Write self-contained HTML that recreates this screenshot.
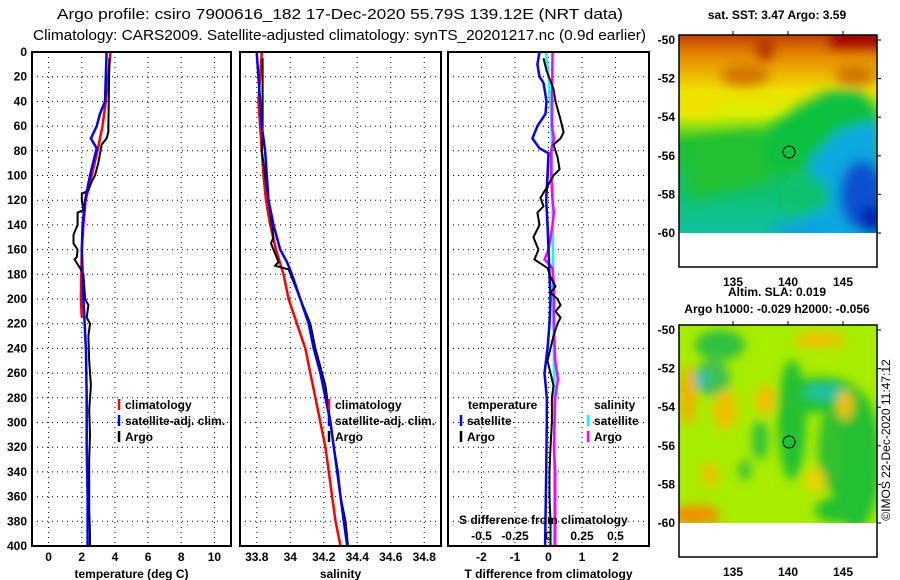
<!DOCTYPE html>
<html><head><meta charset="utf-8"><style>
html,body{margin:0;padding:0;background:#fff;}
svg{display:block;font-family:"Liberation Sans",sans-serif;}
.t{font-size:12px;font-weight:bold;fill:#000;}
.ttl{font-size:15px;fill:#000;}
</style></head><body>
<svg id="chart" width="900" height="580" viewBox="0 0 900 580" xmlns="http://www.w3.org/2000/svg">
<defs>
<filter id="blur1" x="-20%" y="-20%" width="140%" height="140%"><feGaussianBlur stdDeviation="6"/></filter>
<filter id="blur2" x="-20%" y="-20%" width="140%" height="140%"><feGaussianBlur stdDeviation="5"/></filter>
<clipPath id="clipm1"><rect x="679" y="35" width="198" height="198"/></clipPath>
<clipPath id="clipm2"><rect x="679" y="325" width="198" height="198"/></clipPath>
<linearGradient id="sstg" x1="0" y1="0" x2="0" y2="1">
<stop offset="0" stop-color="#c85000"/><stop offset="0.12" stop-color="#e89000"/><stop offset="0.28" stop-color="#f0e000"/><stop offset="0.4" stop-color="#d8f000"/><stop offset="0.55" stop-color="#20c030"/><stop offset="0.8" stop-color="#10c070"/><stop offset="1" stop-color="#10c0a0"/>
</linearGradient>
</defs>
<text class="ttl" x="57" y="19" textLength="566" lengthAdjust="spacingAndGlyphs">Argo profile: csiro 7900616_182 17-Dec-2020 55.79S 139.12E (NRT data)</text>
<text class="ttl" x="33" y="40" textLength="613" lengthAdjust="spacingAndGlyphs">Climatology: CARS2009. Satellite-adjusted climatology: synTS_20201217.nc (0.9d earlier)</text>

<g id="panels"></g>

<!-- SST map -->
<g>
<text class="t" x="777" y="19" text-anchor="middle">sat. SST: 3.47 Argo: 3.59</text>
<g clip-path="url(#clipm1)">
<rect x="679" y="35" width="198" height="198" fill="url(#sstg)"/>
<g filter="url(#blur1)">
<rect x="670" y="25" width="220" height="14" fill="#c04000"/>
<rect x="830" y="25" width="60" height="22" fill="#a00000"/>
<ellipse cx="765" cy="50" rx="8" ry="10" fill="#b02000"/>
<ellipse cx="745" cy="75" rx="25" ry="10" fill="#d07000"/>
<ellipse cx="855" cy="75" rx="20" ry="10" fill="#d07000"/>
<ellipse cx="700" cy="105" rx="22" ry="12" fill="#f0e000"/>
<polygon points="760,170 765,130 800,105 830,90 860,90 880,110 880,170" fill="#10c040"/>
<polygon points="690,140 760,130 770,180 690,200" fill="#20c030"/>
<polygon points="810,160 840,130 880,120 880,240 800,240" fill="#10a8e0"/>
<ellipse cx="862" cy="195" rx="22" ry="35" fill="#1050d0"/>
<ellipse cx="872" cy="220" rx="12" ry="15" fill="#0020b0"/>
<ellipse cx="805" cy="195" rx="25" ry="20" fill="#10c070"/>
<ellipse cx="800" cy="230" rx="30" ry="8" fill="#10a0e0"/>
</g>
</g>
<rect x="679" y="233" width="198" height="34" fill="#fff"/>
<rect x="679" y="35" width="198" height="232" fill="none" stroke="#000" stroke-width="1.5"/>
<circle cx="789" cy="152" r="6" fill="none" stroke="#000" stroke-width="1"/>
</g>

<!-- SLA map -->
<g>
<text class="t" x="777" y="296" text-anchor="middle">Altim. SLA: 0.019</text>
<text class="t" x="777" y="313" text-anchor="middle">Argo h1000: -0.029 h2000: -0.056</text>
<g clip-path="url(#clipm2)">
<rect x="679" y="325" width="198" height="198" fill="#a8ec00"/>
<g filter="url(#blur2)">
<ellipse cx="720" cy="345" rx="25" ry="15" fill="#30c040"/>
<ellipse cx="712" cy="378" rx="18" ry="18" fill="#40c050"/>
<ellipse cx="820" cy="395" rx="40" ry="18" fill="#20c030"/>
<ellipse cx="825" cy="392" rx="22" ry="8" fill="#20c0a0"/>
<ellipse cx="700" cy="380" rx="8" ry="8" fill="#30c0c0"/>
<ellipse cx="792" cy="420" rx="14" ry="60" fill="#20c030"/>
<ellipse cx="855" cy="460" rx="25" ry="70" fill="#20c030"/>
<ellipse cx="830" cy="450" rx="12" ry="40" fill="#30c030"/>
<ellipse cx="760" cy="440" rx="8" ry="20" fill="#30c040"/>
<ellipse cx="745" cy="470" rx="6" ry="10" fill="#30c040"/>
<ellipse cx="835" cy="510" rx="20" ry="12" fill="#20c030"/>
<ellipse cx="688" cy="395" rx="8" ry="30" fill="#f0b000"/>
<ellipse cx="725" cy="410" rx="12" ry="20" fill="#f0c000"/>
<ellipse cx="765" cy="400" rx="10" ry="15" fill="#f0c000"/>
<ellipse cx="695" cy="515" rx="25" ry="10" fill="#f09000"/>
<ellipse cx="820" cy="340" rx="25" ry="8" fill="#f0c000"/>
<ellipse cx="845" cy="405" rx="8" ry="15" fill="#f0c000"/>
<ellipse cx="710" cy="475" rx="8" ry="12" fill="#f0c000"/>
<ellipse cx="815" cy="480" rx="10" ry="12" fill="#f0d000"/>
</g>
</g>
<rect x="679" y="523" width="198" height="34" fill="#fff"/>
<rect x="679" y="325" width="198" height="232" fill="none" stroke="#000" stroke-width="1.5"/>
<circle cx="789" cy="442" r="6" fill="#20c030" stroke="#000" stroke-width="1"/>
</g>
<text x="0" y="0" font-size="12" transform="translate(890,440) rotate(-90)" text-anchor="middle">©IMOS 22-Dec-2020 11:47:12</text>
</svg>
<script>
// ---- data ----
const depthTicks = [0,20,40,60,80,100,120,140,160,180,200,220,240,260,280,300,320,340,360,380,400];
const tempTicks = [0,2,4,6,8,10];
const salTicks = [33.8,34,34.2,34.4,34.6,34.8];
const salTickLabels = ["33.8","34","34.2","34.4","34.6","34.8"];
const tdiffTicks = [-2,-1,0,1,2];
const sdiffTicks = [-0.5,-0.25,0,0.25,0.5];
const sdiffTickLabels = ["-0.5","-0.25","0","0.25","0.5"];

const climTDepth = [0,20,40,60,80,100,120,140,160,180,200,215];
const climTVal = [3.73,3.6,3.45,3.25,2.95,2.6,2.23,2.1,2.0,1.97,1.95,2.0];
const satTDepth = [0,40,50,60,70,78,100,120,140,160,200,240,280,320,360,400];
const satTVal = [3.5,3.4,3.1,2.9,2.55,2.9,2.5,2.2,2.05,2.0,2.1,2.25,2.3,2.3,2.35,2.35];
const argoTDepth = [5,65,70,75,90,100,105,112,115,120,128,130,140,148,155,160,166,168,175,180,200,205,215,220,230,250,270,290,310,330,350,370,390,400];
const argoTVal = [3.67,3.6,3.5,3.2,3.0,2.8,2.6,2.4,2.0,2.0,2.1,1.75,1.75,1.5,1.5,1.75,1.7,1.57,1.9,2.1,2.2,2.4,2.3,2.5,2.4,2.45,2.55,2.45,2.5,2.45,2.45,2.45,2.5,2.5];

const climSDepth = [0,40,80,100,120,140,160,180,200,220,240,260,280,300,320,340,360,380,400];
const climSVal = [33.83,33.81,33.83,33.84,33.855,33.88,33.915,33.96,33.99,34.04,34.09,34.12,34.15,34.18,34.21,34.23,34.25,34.27,34.30];
const satSDepth = [0,20,60,80,100,120,140,160,170,180,200,220,240,260,280,300,320,340,360,380,400];
const satSVal = [33.8,33.81,33.83,33.85,33.86,33.87,33.9,33.94,33.98,34.01,34.06,34.11,34.14,34.18,34.21,34.24,34.26,34.28,34.3,34.32,34.34];
const argoSDepth = [5,60,80,100,120,140,150,155,160,170,173,176,200,220,240,260,270,280,300,320,340,360,380,400];
const argoSVal = [33.835,33.835,33.83,33.85,33.87,33.89,33.9,33.885,33.9,33.93,33.91,33.99,34.06,34.12,34.15,34.19,34.21,34.22,34.24,34.26,34.285,34.3,34.33,34.345];

const tdSatDepth = [0,10,20,25,40,50,60,70,78,82,100,120,140,160,200,220,240,260,280,300,340,400];
const tdSatVal = [-0.27,-0.33,-0.27,-0.15,-0.06,-0.09,-0.33,-0.48,-0.27,0,-0.03,-0.07,-0.03,0,0.06,0.03,-0.03,-0.12,-0.05,-0.05,-0.07,-0.1];
const tdArgoDepth = [5,15,30,40,55,65,70,75,85,95,100,110,118,125,130,140,150,160,168,175,182,190,195,200,205,210,215,220,230,240,250,260,270,280,300,320,340,360,380,400];
const tdArgoVal = [-0.15,-0.06,0.15,0.21,0.36,0.45,0.36,0.15,0.27,0.33,0.15,-0.06,-0.24,-0.15,-0.33,-0.27,-0.45,-0.3,-0.42,-0.03,0.06,0.21,0.06,0.27,0.36,0.21,0.36,0.27,0.15,0.06,-0.03,0.06,0.15,0.1,0.1,0.06,0.03,0.03,0.06,0.06];
const sdSatDepth = [0,20,50,100,200,300,400];
const sdSatVal = [-0.02,0.0,0.02,0.03,0.035,0.045,0.04];
const sdArgoDepth = [0,60,70,80,100,120,130,140,160,168,175,190,220,250,265,280,320,340,400];
const sdArgoVal = [0.03,0.025,0.04,0.02,0.02,0.03,0.04,0.03,0.0,-0.03,0.03,0.04,0.04,0.05,0.07,0.05,0.04,0.05,0.05];

// ---- drawing ----
const NS = 'http://www.w3.org/2000/svg';
const root = document.getElementById('panels');
const Y0 = 52, Y1 = 546;
function yScale(d){ return Y0 + (d/400)*(Y1-Y0); }
function mk(tag, attrs, parent){
  const e = document.createElementNS(NS, tag);
  for (const k in attrs) e.setAttribute(k, attrs[k]);
  (parent||root).appendChild(e);
  return e;
}
function makeX(x0,x1,vmin,vmax){ return v => x0 + (v-vmin)/(vmax-vmin)*(x1-x0); }

function panel(name, x0, x1, xs, ticks, labels, title, showDepth){
  const g = mk('g', {});
  
  
  ticks.forEach(t => {
    const l = mk('line', {x1:xs(t), x2:xs(t), y1:Y0, y2:Y1, stroke:'#000', 'stroke-width':1, 'stroke-dasharray':'1,4'}, g);
    
    
  });
  depthTicks.forEach(d => {
    if (d===0 || d===400) return;
    const l = mk('line', {x1:x0, x2:x1, y1:yScale(d), y2:yScale(d), stroke:'#000', 'stroke-width':1, 'stroke-dasharray':'1,4'}, g);
    
    
  });
  if (labels){
    ticks.forEach((t,i) => {
      const tx = mk('text', {x:xs(t), y:561, 'text-anchor':'middle', class:'t'}, g);
      tx.textContent = labels[i];
      
      
    });
  }
  const tt = mk('text', {x:(x0+x1)/2, y:578, 'text-anchor':'middle', class:'t'}, g);
  tt.textContent = title;
  
  
  if (showDepth){
    depthTicks.forEach(d => {
      const tx = mk('text', {x:27, y:yScale(d)+4, 'text-anchor':'end', class:'t'}, g);
      tx.textContent = String(d);
      
      
    });
  }
  return g;
}
function frame(g, x0, x1){
  const r = mk('rect', {x:x0, y:Y0, width:x1-x0, height:Y1-Y0, fill:'none', stroke:'#000', 'stroke-width':2}, g);
  
  
}
function series(g, name, depths, vals, xs, color, w){
  const pts = depths.map((d,i) => xs(vals[i]).toFixed(1)+','+yScale(d).toFixed(1)).join(' ');
  const p = mk('polyline', {points:pts, fill:'none', stroke:color, 'stroke-width':w, 'stroke-linejoin':'miter'}, g);
  
  
}
function legend(g, x, y, color, text){
  const m = mk('line', {x1:x, x2:x, y1:y-10, y2:y+1, stroke:color, 'stroke-width':2.5}, g);
  
  
  const t = mk('text', {x:x+6, y:y, class:'t'}, g);
  t.textContent = text;
  
  
}
function label(g, x, y, text, name){
  const t = mk('text', {x:x, y:y, class:'t'}, g);
  t.textContent = text;
  
  
}

const xT = makeX(32, 231, -1, 11);
const g1 = panel('temperature-panel', 32, 231, xT, tempTicks, tempTicks.map(String), 'temperature (deg C)', true);
series(g1, 'temperature-climatology-line', climTDepth, climTVal, xT, '#ff0000', 2.5);
series(g1, 'temperature-argo-line', argoTDepth, argoTVal, xT, '#000', 2);
series(g1, 'temperature-satellite-line', satTDepth, satTVal, xT, '#0000ff', 2.5);
legend(g1, 119, 409, '#ff0000', 'climatology');
legend(g1, 119, 425, '#0000ff', 'satellite-adj. clim.');
legend(g1, 119, 441, '#000', 'Argo');
frame(g1, 32, 231);

const xS = makeX(240, 441, 33.7, 34.9);
const g2 = panel('salinity-panel', 240, 441, xS, salTicks, salTickLabels, 'salinity', false);
series(g2, 'salinity-climatology-line', climSDepth, climSVal, xS, '#ff0000', 2.5);
series(g2, 'salinity-argo-line', argoSDepth, argoSVal, xS, '#000', 2);
series(g2, 'salinity-satellite-line', satSDepth, satSVal, xS, '#0000ff', 2.5);
legend(g2, 329, 409, '#ff0000', 'climatology');
legend(g2, 329, 425, '#0000ff', 'satellite-adj. clim.');
legend(g2, 329, 441, '#000', 'Argo');
frame(g2, 240, 441);

const xD = makeX(448, 649, -3, 3);
const xSD = makeX(448, 649, -0.75, 0.75);
const g3 = panel('difference-panel', 448, 649, xD, tdiffTicks, tdiffTicks.map(String), 'T difference from climatology', false);
series(g3, 'salinity-diff-satellite-line', sdSatDepth, sdSatVal, xSD, '#00ffff', 2.5);
series(g3, 'salinity-diff-argo-line', sdArgoDepth, sdArgoVal, xSD, '#ff00ff', 2.5);
series(g3, 'temperature-diff-satellite-line', tdSatDepth, tdSatVal, xD, '#0000ff', 2.5);
series(g3, 'temperature-diff-argo-line', tdArgoDepth, tdArgoVal, xD, '#000', 2);
label(g3, 468, 409, 'temperature', 'legend-temperature-heading');
legend(g3, 461, 425, '#0000ff', 'satellite');
legend(g3, 461, 441, '#000', 'Argo');
label(g3, 594, 409, 'salinity', 'legend-salinity-heading');
legend(g3, 588, 425, '#00ffff', 'satellite');
legend(g3, 588, 441, '#ff00ff', 'Argo');
label(g3, 459, 524, 'S difference from climatology', 'secondary-axis-title');
sdiffTicks.forEach((t,i) => {
  const tx = mk('text', {x:xSD(t), y:540, 'text-anchor':'middle', class:'t'}, g3);
  tx.textContent = sdiffTickLabels[i];
  
  
});
frame(g3, 448, 649);

const mapLat = [-50,-52,-54,-56,-58,-60];
const mapLon = [135,140,145];
const svg = document.getElementById('chart');
[[35,267],[325,557]].forEach((m,mi) => {
  mapLat.forEach(la => {
    const y = m[0] + 5 + (-50 - la) * 19.3;
    const t = mk('text', {x:675, y:y+4, 'text-anchor':'end', class:'t'}, svg);
    t.textContent = String(la);
    
    
    const tk = mk('line', {x1:877, x2:881, y1:y, y2:y, stroke:'#000', 'stroke-width':1}, svg);
    
    
  });
  mapLon.forEach(lo => {
    const x = 733 + (lo - 135) * 11;
    const t = mk('text', {x:x, y:m[1]+19, 'text-anchor':'middle', class:'t'}, svg);
    t.textContent = String(lo);
    
    
    const tk = mk('line', {x1:x, x2:x, y1:m[0]-4, y2:m[0], stroke:'#000', 'stroke-width':1}, svg);
    
    
  });
});
</script>
</body></html>
